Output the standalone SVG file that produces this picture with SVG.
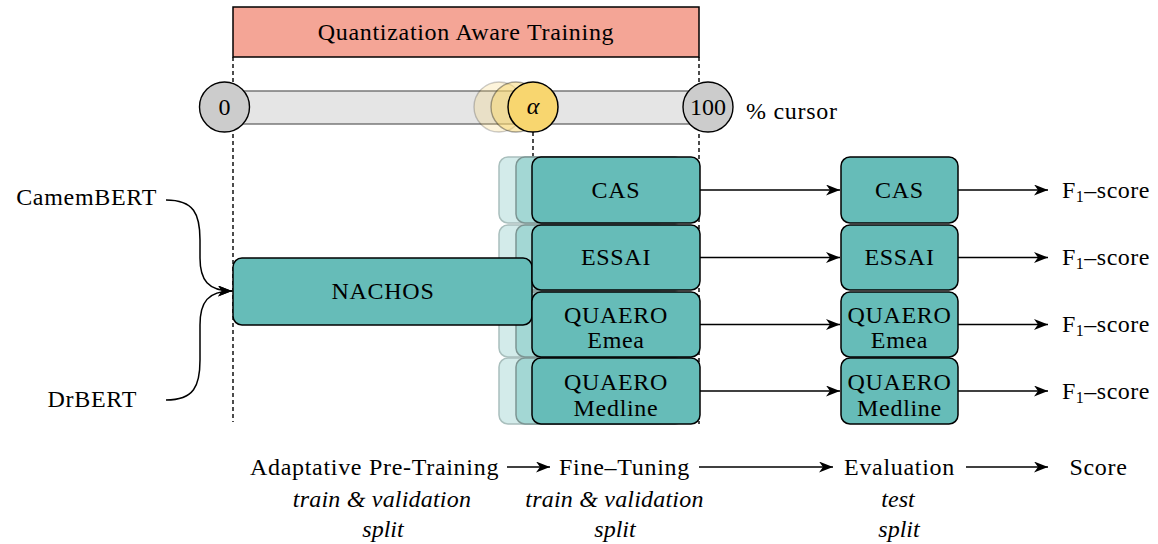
<svg xmlns="http://www.w3.org/2000/svg" width="1158" height="544" viewBox="0 0 1158 544" font-family="Liberation Serif" font-size="24">
<style>
.c{text-anchor:middle}
.it{font-style:italic}
.box{fill:#66BCB8;stroke:#000;stroke-width:1.5}
.g1{fill:#D3EBEA;stroke:#A9BFBD;stroke-width:1.5}
.g2{fill:#A3D7D4;stroke:#7C9593;stroke-width:1.5}
.dash{stroke:#000;stroke-width:1.4;stroke-dasharray:4 3;fill:none}
.arr{stroke:#000;stroke-width:1.5;fill:none;marker-end:url(#ah)}
</style>
<defs>
<marker id="ah" markerUnits="userSpaceOnUse" markerWidth="16" markerHeight="12" refX="14" refY="5.5" orient="auto">
<path d="M0,0 L14,5.5 L0,11 L4,5.5 z" fill="#000"/>
</marker>
</defs>
<rect width="1158" height="544" fill="#fff"/>

<g id="qat">
<rect x="233" y="7" width="466" height="50" fill="#F4A596" stroke="#000" stroke-width="1.5"/>
<text class="c" x="466" y="40" font-family="Liberation Serif" font-size="24" letter-spacing="0.7">Quantization Aware Training</text>
</g>

<g id="guides">
<line class="dash" x1="233" y1="57" x2="233" y2="422"/>
<line class="dash" x1="699" y1="57" x2="699" y2="424"/>
<line class="dash" x1="533" y1="132" x2="533" y2="157"/>
</g>

<g id="cursor">
<rect x="224" y="91" width="484" height="33" fill="#E5E5E5" stroke="#666" stroke-width="1.3"/>
<circle cx="224.5" cy="107" r="25" fill="#CCCCCC" stroke="#000" stroke-width="1.4"/>
<text class="c" x="224.5" y="115" font-family="Liberation Serif" font-size="24">0</text>
<circle cx="708" cy="107" r="25" fill="#CCCCCC" stroke="#000" stroke-width="1.4"/>
<text class="c" x="708" y="115" font-family="Liberation Serif" font-size="24">100</text>
<circle cx="499" cy="107" r="25" fill="#F7D56E" fill-opacity="0.25" stroke="#000" stroke-opacity="0.2" stroke-width="1.4"/>
<circle cx="516" cy="107" r="25" fill="#F7D56E" fill-opacity="0.5" stroke="#000" stroke-opacity="0.35" stroke-width="1.4"/>
<circle cx="533" cy="107" r="25" fill="#F8D66F" stroke="#000" stroke-width="1.5"/>
<text class="c it" x="533" y="114" font-family="Liberation Serif" font-size="24">&#945;</text>
<text x="746" y="119" font-family="Liberation Serif" font-size="24" letter-spacing="0.7">% cursor</text>
</g>

<g id="ghost1">
<rect class="g1" x="499" y="157" width="168" height="66" rx="9"/>
<rect class="g1" x="499" y="225" width="168" height="65" rx="9"/>
<rect class="g1" x="499" y="292" width="168" height="65" rx="9"/>
<rect class="g1" x="499" y="358" width="168" height="66" rx="9"/>
</g>
<g id="ghost2">
<rect class="g2" x="516" y="157" width="168" height="66" rx="9"/>
<rect class="g2" x="516" y="225" width="168" height="65" rx="9"/>
<rect class="g2" x="516" y="292" width="168" height="65" rx="9"/>
<rect class="g2" x="516" y="358" width="168" height="66" rx="9"/>
</g>

<g id="nachos">
<rect class="box" x="233" y="258" width="299" height="67" rx="9"/>
<text class="c" x="383" y="299" font-family="Liberation Serif" font-size="24" letter-spacing="0.7">NACHOS</text>
</g>

<g id="ft-cas">
<rect class="box" x="532" y="157" width="168" height="66" rx="9"/>
<text class="c" x="616" y="198" font-family="Liberation Serif" font-size="24" letter-spacing="0.7">CAS</text>
</g>
<g id="ft-essai">
<rect class="box" x="532" y="225" width="168" height="65" rx="9"/>
<text class="c" x="616" y="265" font-family="Liberation Serif" font-size="24" letter-spacing="0.7">ESSAI</text>
</g>
<g id="ft-emea">
<rect class="box" x="532" y="292" width="168" height="65" rx="9"/>
<text class="c" x="616" y="323" font-family="Liberation Serif" font-size="24" letter-spacing="0.7">QUAERO</text>
<text class="c" x="616" y="348" font-family="Liberation Serif" font-size="24" letter-spacing="0.7">Emea</text>
</g>
<g id="ft-medline">
<rect class="box" x="532" y="358" width="168" height="66" rx="9"/>
<text class="c" x="616" y="390" font-family="Liberation Serif" font-size="24" letter-spacing="0.7">QUAERO</text>
<text class="c" x="616" y="416" font-family="Liberation Serif" font-size="24" letter-spacing="0.7">Medline</text>
</g>

<g id="ev-cas">
<rect class="box" x="841" y="157" width="117" height="66" rx="9"/>
<text class="c" x="899.5" y="198" font-family="Liberation Serif" font-size="24" letter-spacing="0.7">CAS</text>
</g>
<g id="ev-essai">
<rect class="box" x="841" y="225" width="117" height="65" rx="9"/>
<text class="c" x="899.5" y="265" font-family="Liberation Serif" font-size="24" letter-spacing="0.7">ESSAI</text>
</g>
<g id="ev-emea">
<rect class="box" x="841" y="292" width="117" height="65" rx="9"/>
<text class="c" x="899.5" y="323" font-family="Liberation Serif" font-size="24" letter-spacing="0.7">QUAERO</text>
<text class="c" x="899.5" y="348" font-family="Liberation Serif" font-size="24" letter-spacing="0.7">Emea</text>
</g>
<g id="ev-medline">
<rect class="box" x="841" y="358" width="117" height="66" rx="9"/>
<text class="c" x="899.5" y="390" font-family="Liberation Serif" font-size="24" letter-spacing="0.7">QUAERO</text>
<text class="c" x="899.5" y="416" font-family="Liberation Serif" font-size="24" letter-spacing="0.7">Medline</text>
</g>

<g id="scores">
<text x="1062" y="198" font-family="Liberation Serif" font-size="24" letter-spacing="0.5">F<tspan font-size="16" dy="4">1</tspan><tspan dy="-4">&#8211;score</tspan></text>
<text x="1062" y="265" font-family="Liberation Serif" font-size="24" letter-spacing="0.5">F<tspan font-size="16" dy="4">1</tspan><tspan dy="-4">&#8211;score</tspan></text>
<text x="1062" y="332" font-family="Liberation Serif" font-size="24" letter-spacing="0.5">F<tspan font-size="16" dy="4">1</tspan><tspan dy="-4">&#8211;score</tspan></text>
<text x="1062" y="399" font-family="Liberation Serif" font-size="24" letter-spacing="0.5">F<tspan font-size="16" dy="4">1</tspan><tspan dy="-4">&#8211;score</tspan></text>
</g>

<g id="models">
<text x="157" y="205" text-anchor="end" font-family="Liberation Serif" font-size="24" letter-spacing="0.7">CamemBERT</text>
<text x="137" y="407" text-anchor="end" font-family="Liberation Serif" font-size="24" letter-spacing="0.7">DrBERT</text>
</g>

<g id="stages">
<text class="c" x="374.5" y="475" font-family="Liberation Serif" font-size="24" letter-spacing="0.7">Adaptative Pre-Training</text>
<text class="c it" x="382" y="507" font-family="Liberation Serif" font-size="24" letter-spacing="0.2">train &amp; validation</text>
<text class="c it" x="383" y="537" font-family="Liberation Serif" font-size="24">split</text>
<text class="c" x="624.5" y="475" font-family="Liberation Serif" font-size="24" letter-spacing="0.7">Fine&#8211;Tuning</text>
<text class="c it" x="614.5" y="507" font-family="Liberation Serif" font-size="24" letter-spacing="0.2">train &amp; validation</text>
<text class="c it" x="615" y="537" font-family="Liberation Serif" font-size="24">split</text>
<text class="c" x="899.5" y="475" font-family="Liberation Serif" font-size="24" letter-spacing="0.7">Evaluation</text>
<text class="c it" x="898" y="507" font-family="Liberation Serif" font-size="24">test</text>
<text class="c it" x="899" y="537" font-family="Liberation Serif" font-size="24">split</text>
<text class="c" x="1098.5" y="475" font-family="Liberation Serif" font-size="24" letter-spacing="0.7">Score</text>
</g>

<g id="connectors">
<path class="arr" d="M166,200 C194,200 200,214 200,240 L200,258 C200,280 208,291 232,291"/>
<path class="arr" d="M166,400 C194,400 200,386 200,360 L200,325 C200,302 208,291 232,291"/>
<line class="arr" x1="700" y1="190" x2="840" y2="190"/>
<line class="arr" x1="700" y1="257.5" x2="840" y2="257.5"/>
<line class="arr" x1="700" y1="324.5" x2="840" y2="324.5"/>
<line class="arr" x1="700" y1="391" x2="840" y2="391"/>
<line class="arr" x1="958" y1="190" x2="1048" y2="190"/>
<line class="arr" x1="958" y1="257.5" x2="1048" y2="257.5"/>
<line class="arr" x1="958" y1="324.5" x2="1048" y2="324.5"/>
<line class="arr" x1="958" y1="391" x2="1048" y2="391"/>
<line class="arr" x1="507" y1="467" x2="550" y2="467"/>
<line class="arr" x1="699" y1="467" x2="833" y2="467"/>
<line class="arr" x1="966" y1="467" x2="1048" y2="467"/>
</g>
</svg>
